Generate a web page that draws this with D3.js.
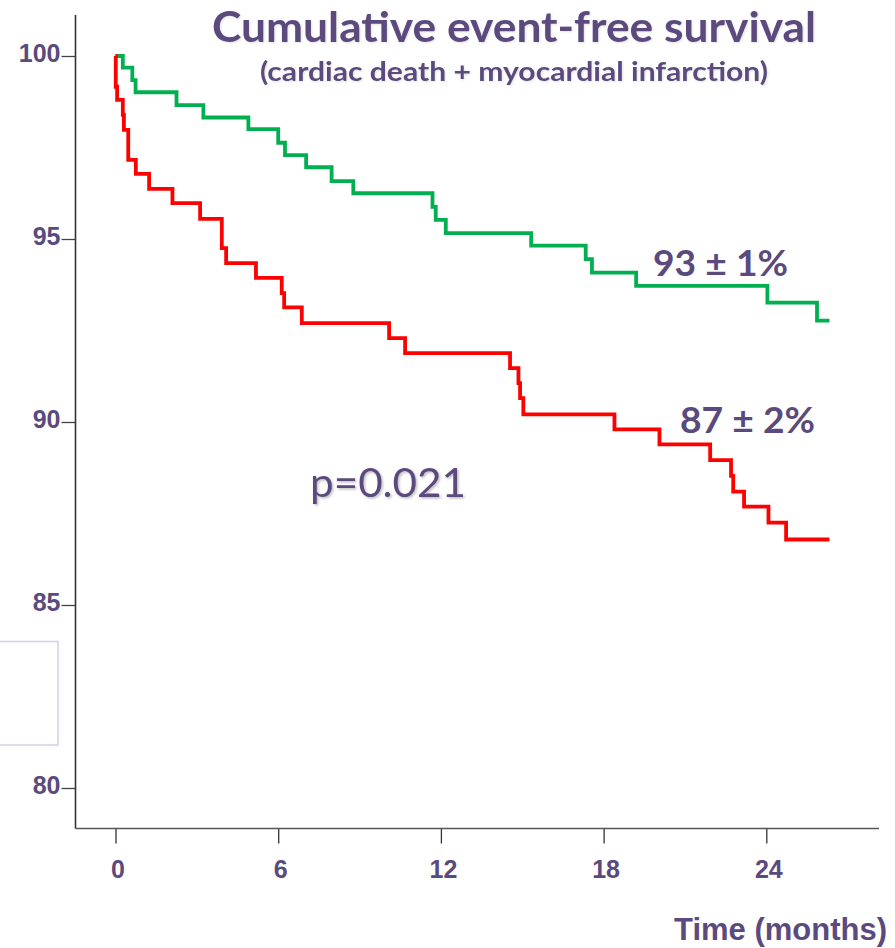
<!DOCTYPE html>
<html>
<head>
<meta charset="utf-8">
<script src="https://cdn.jsdelivr.net/npm/d3@7"></script>
<style>
  html, body { margin: 0; padding: 0; background: #fff; }
  svg { display: block; }
</style>
</head>
<body>
<svg id="chart" width="895" height="948"></svg>
<script>
// ---- Data ----
const xTicks = [0, 6, 12, 18, 24];
const yTicks = [80, 85, 90, 95, 100];

const greenTimes = [0, 0.27, 0.62, 0.74, 2.25, 3.24, 4.90, 6.00, 6.25, 7.03, 7.97, 8.77, 11.69, 11.81, 12.18, 15.33, 17.34, 17.57, 19.20, 24.04, 25.87, 26.33];
const greenSurv  = [100, 99.68, 99.34, 99.01, 98.66, 98.32, 98.00, 97.63, 97.29, 96.96, 96.58, 96.25, 95.88, 95.52, 95.16, 94.82, 94.45, 94.08, 93.72, 93.26, 92.77, 92.77];

const redTimes = [0, 0.01, 0.06, 0.27, 0.31, 0.47, 0.75, 1.24, 2.10, 3.12, 3.92, 4.08, 5.18, 6.13, 6.22, 6.87, 10.09, 10.68, 14.55, 14.86, 14.92, 15.04, 18.40, 20.06, 21.93, 22.70, 22.78, 23.18, 24.08, 24.73, 26.33];
const redSurv  = [100, 99.16, 98.80, 98.39, 97.98, 97.16, 96.78, 96.37, 95.98, 95.55, 94.75, 94.34, 93.94, 93.52, 93.13, 92.70, 92.29, 91.88, 91.47, 91.06, 90.65, 90.21, 89.80, 89.39, 88.96, 88.53, 88.10, 87.69, 87.25, 86.79, 86.79];

const titleText = "Cumulative event-free survival";
const subtitleText = "(cardiac death + myocardial infarction)";
const greenLabel = "93 ± 1%";
const redLabel = "87 ± 2%";
const pText = "p=0.021";
const xAxisTitle = "Time (months)";

// ---- Setup ----
const purple = "#5b4a7e";
const svg = d3.select("#chart");

const defs = svg.append("defs");
const f = defs.append("filter").attr("id", "shadow")
  .attr("x", "-10%").attr("y", "-20%").attr("width", "130%").attr("height", "150%");
f.append("feDropShadow").attr("dx", 1.5).attr("dy", 1.5).attr("stdDeviation", 1)
  .attr("flood-color", "#888").attr("flood-opacity", 0.55);
const f2 = defs.append("filter").attr("id", "shadowLight")
  .attr("x", "-10%").attr("y", "-20%").attr("width", "130%").attr("height", "150%");
f2.append("feDropShadow").attr("dx", 1).attr("dy", 1).attr("stdDeviation", 0.8)
  .attr("flood-color", "#aaa").attr("flood-opacity", 0.35);

const x = d3.scaleLinear().domain([0, 24]).range([115.5, 766.3]);
const y = d3.scaleLinear().domain([80, 100]).range([788, 56]);

const axisX0 = 75.5, axisY0 = 828.5;

// small box at left
svg.append("rect")
  .attr("x", -3).attr("y", 641.5).attr("width", 61).attr("height", 103.5)
  .attr("fill", "none").attr("stroke", "#d6cfe6").attr("stroke-width", 1.5);

// ---- Y axis ----
const yAxis = svg.append("g").attr("transform", `translate(${axisX0},0)`)
  .call(d3.axisLeft(y).tickValues(yTicks).tickSize(14).tickSizeOuter(0).tickPadding(1));
yAxis.select(".domain").remove();
yAxis.append("line").attr("x1", 0).attr("x2", 0).attr("y1", 15).attr("y2", axisY0)
  .attr("stroke", "#333").attr("stroke-width", 1.6);
yAxis.selectAll(".tick line").attr("stroke", "#444").attr("stroke-width", 1.3);
yAxis.selectAll(".tick text")
  .attr("fill", purple).attr("dy", "0.22em")
  .style("font-family", "'Liberation Sans', Arial, sans-serif")
  .style("font-weight", "bold").style("font-size", "25px");

// ---- X axis ----
const xAxis = svg.append("g").attr("transform", `translate(0,${axisY0})`)
  .call(d3.axisBottom(x).tickValues(xTicks).tickSize(15).tickSizeOuter(0).tickPadding(17));
xAxis.select(".domain").remove();
xAxis.append("line").attr("x1", axisX0).attr("x2", 879).attr("y1", 0).attr("y2", 0)
  .attr("stroke", "#555").attr("stroke-width", 1.6);
xAxis.selectAll(".tick line").attr("stroke", "#333").attr("stroke-width", 1.3);
xAxis.selectAll(".tick text")
  .attr("fill", purple).attr("dx", 2)
  .style("font-family", "'Liberation Sans', Arial, sans-serif")
  .style("font-weight", "bold").style("font-size", "25px");

// ---- Curves ----
const line = d3.line().x(d => x(d[0])).y(d => y(d[1])).curve(d3.curveStepAfter);
const greenData = greenTimes.map((t, i) => [t, greenSurv[i]]);
const redData = redTimes.map((t, i) => [t, redSurv[i]]);

svg.append("path").datum(greenData).attr("d", line)
  .attr("fill", "none").attr("stroke", "#00b050").attr("stroke-width", 3.8)
  .attr("stroke-linejoin", "miter");
svg.append("path").datum(redData).attr("d", line)
  .attr("fill", "none").attr("stroke", "#ff0000").attr("stroke-width", 3.8)
  .attr("stroke-linejoin", "miter");

// ---- Texts ----
const calibriLike = "Lato, 'Open Sans', 'Noto Sans', sans-serif";
function fitText(txt, xLeft, baseline, size, weight, width, filter) {
  const t = svg.append("text")
    .attr("x", xLeft).attr("y", baseline)
    .attr("fill", purple)
    .style("font-family", calibriLike)
    .style("font-weight", weight)
    .style("font-size", size + "px")
    .text(txt);
  t.attr("textLength", width).attr("lengthAdjust", "spacingAndGlyphs");
  if (filter) t.attr("filter", `url(#${filter})`);
  return t;
}

fitText(titleText, 212, 41.5, 42, "bold", 604, "shadowLight");
fitText(subtitleText, 260, 81, 26, "bold", 508, "shadowLight");
fitText(greenLabel, 653, 276, 37, "bold", 135, null);
fitText(redLabel, 680, 433, 37, "bold", 135, null);
fitText(pText, 310, 497, 41, "normal", 156, "shadow");

svg.append("text")
  .attr("x", 887).attr("y", 940).attr("text-anchor", "end")
  .attr("fill", purple)
  .style("font-family", "'Liberation Sans', Arial, sans-serif")
  .style("font-weight", "bold").style("font-size", "31px")
  .text(xAxisTitle);
</script>
</body>
</html>
